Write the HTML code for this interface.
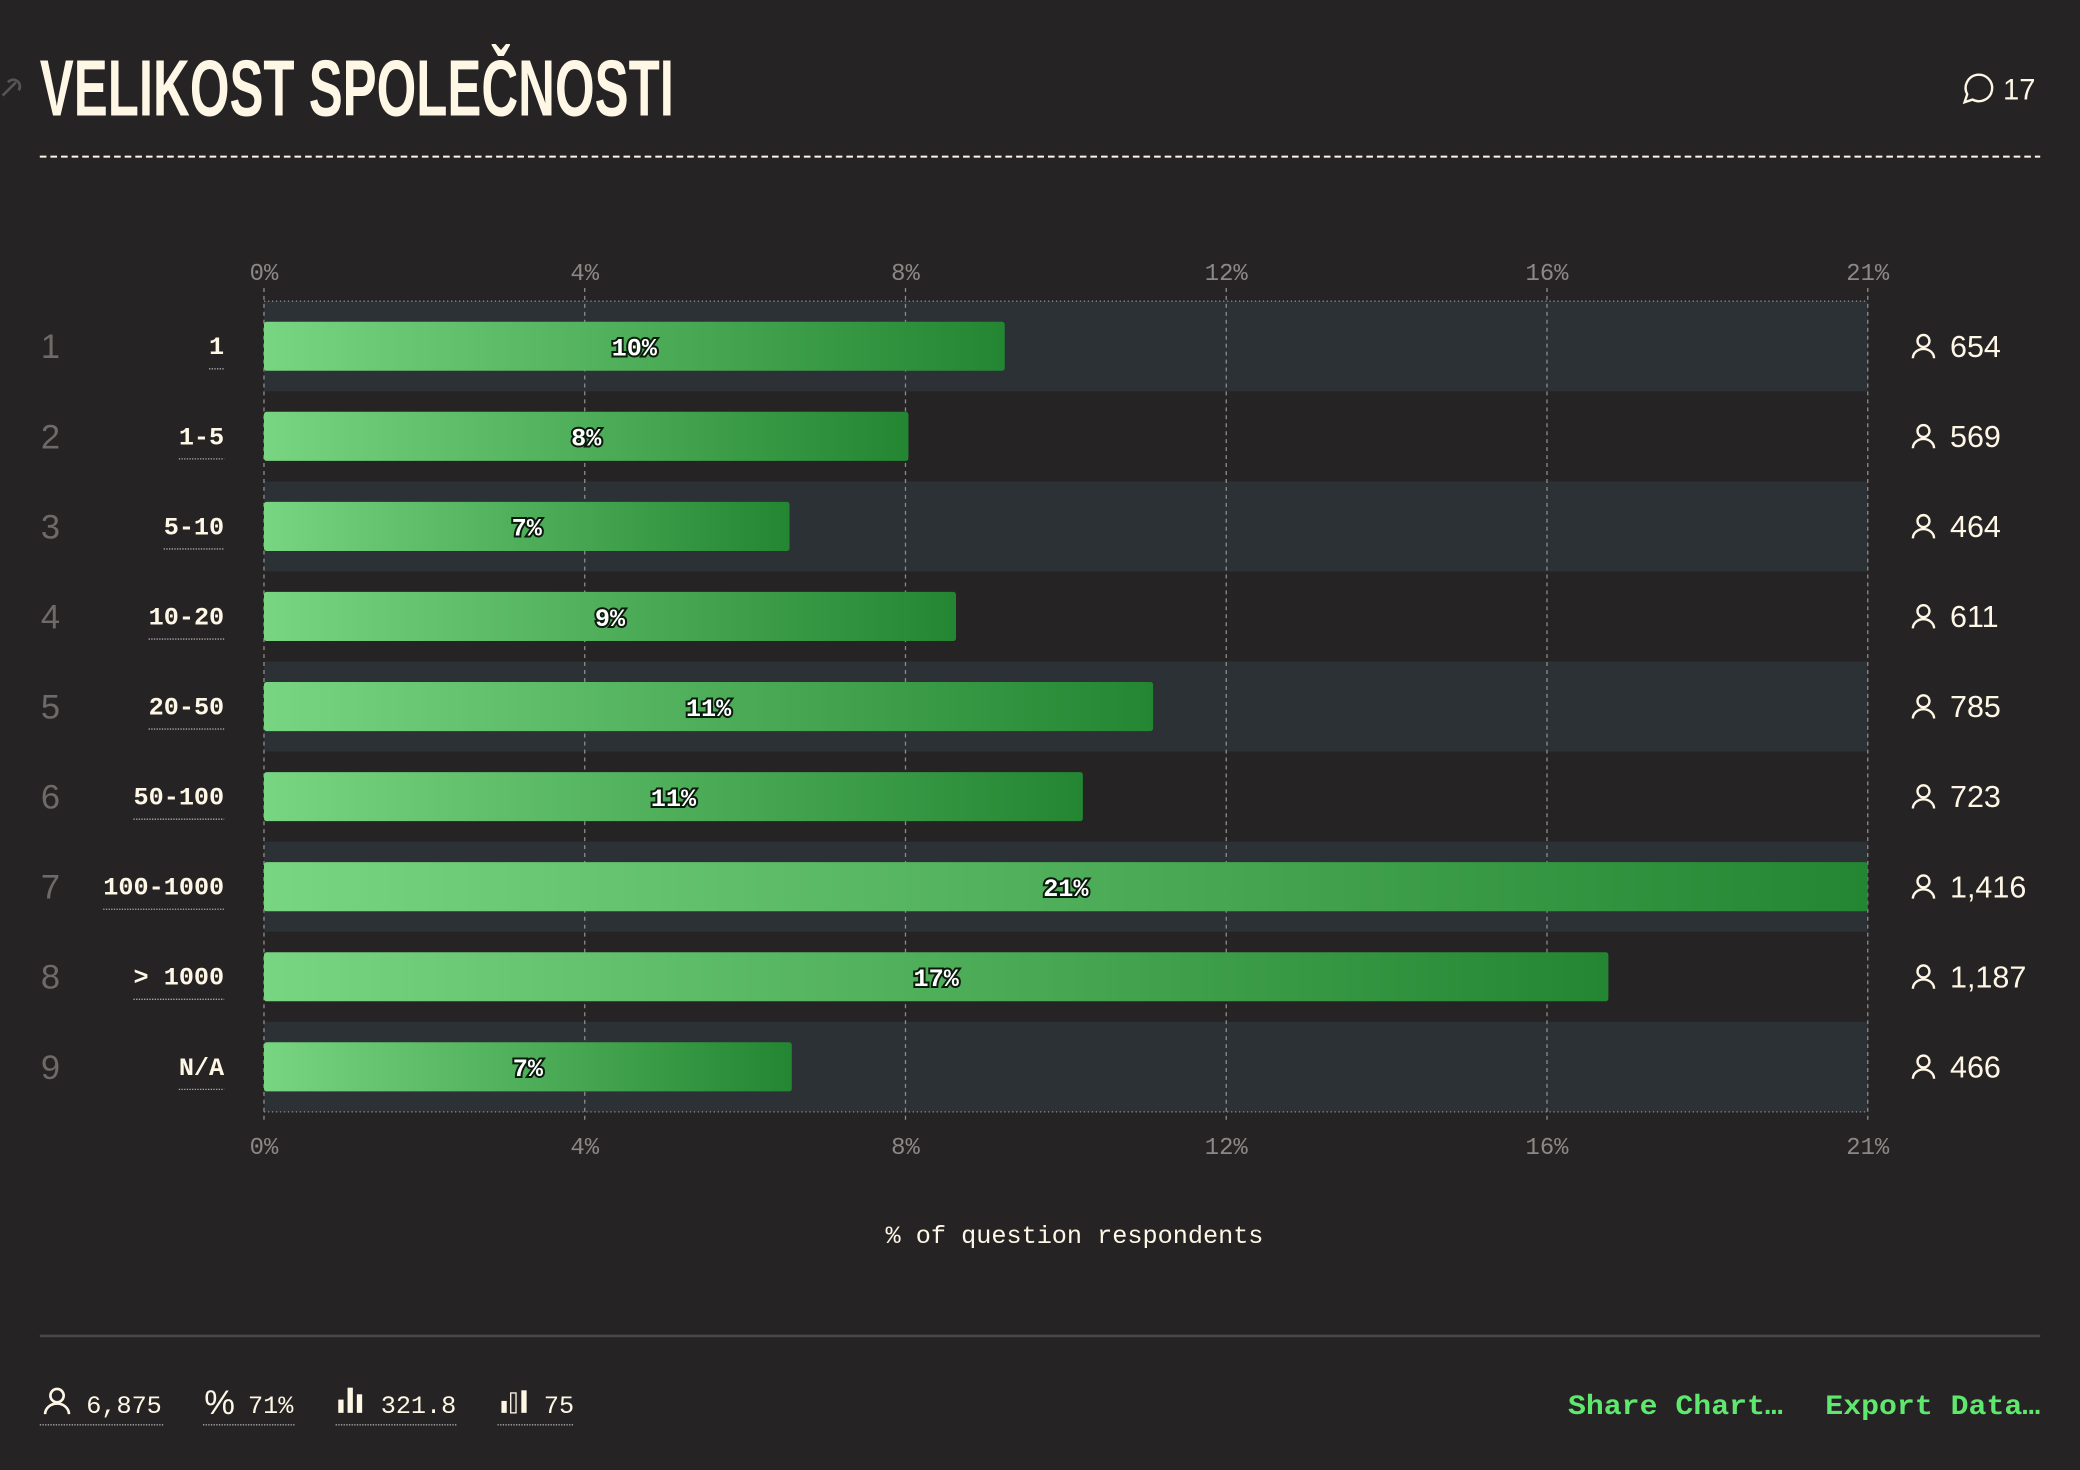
<!DOCTYPE html>
<html><head><meta charset="utf-8">
<style>
html,body{margin:0;padding:0;background:#262324;}
svg{display:block;}
.mono{font-family:"Liberation Mono","DejaVu Sans Mono",monospace;}
.sans{font-family:"Liberation Sans","DejaVu Sans",sans-serif;}
</style></head>
<body>
<svg id="chart" width="2080" height="1470" viewBox="0 0 1568 1108" xmlns="http://www.w3.org/2000/svg">
<defs>
<linearGradient id="barGrad" x1="0" x2="1" y1="0" y2="0">
<stop offset="0" stop-color="#78d581"/><stop offset="1" stop-color="#248632"/>
</linearGradient>
</defs>
<rect width="1568" height="1108" fill="#262324"/>
<text x="30" y="87" fill="#fff7e6" font-family="'Liberation Sans Narrow','Liberation Sans',sans-serif" font-weight="bold" font-size="60" textLength="478" lengthAdjust="spacingAndGlyphs">VELIKOST SPOLEČNOSTI</text>
<g stroke="#555" stroke-width="2" fill="none"><path d="M2 72 l10 -10 M6 62 a5 5 0 0 1 8 6"/></g>
<g>
<path d="M1481 77 l2 -6 a10 10 0 1 1 4 4 z" fill="none" stroke="#fff7e6" stroke-width="1.8"/>
<text x="1510" y="75" fill="#fff7e6" class="sans" font-size="22">17</text>
</g>
<line x1="30" x2="1538" y1="118" y2="118" stroke="#fff7e6" stroke-width="1.5" stroke-dasharray="5,3"/>
<g id="plot"></g>
<text x="810" y="937" fill="#fff7e6" class="mono" font-size="19" text-anchor="middle">% of question respondents</text>
<line x1="30" x2="1538" y1="1007" y2="1007" stroke="#4a4748" stroke-width="2"/>
<g fill="#fff7e6" class="mono" font-size="19">
<g>
<circle cx="43" cy="1052" r="5" fill="none" stroke="#fff7e6" stroke-width="2"/><path d="M34 1066 a9 8 0 0 1 18 0" fill="none" stroke="#fff7e6" stroke-width="2"/>
<text x="65" y="1065">6,875</text><line x1="30" x2="123" y1="1074" y2="1074" stroke="#aaa" stroke-dasharray="1,1"/></g>
<g>
<text x="154" y="1066" font-size="26" class="sans">%</text><text x="187" y="1065">71%</text><line x1="153" x2="222" y1="1074" y2="1074" stroke="#aaa" stroke-dasharray="1,1"/></g>
<g>
<rect x="255" y="1055" width="4" height="10"/><rect x="262" y="1046" width="4" height="19"/><rect x="269" y="1051" width="4" height="14"/>
<text x="287" y="1065">321.8</text><line x1="253" x2="345" y1="1074" y2="1074" stroke="#aaa" stroke-dasharray="1,1"/></g>
<g>
<rect x="378" y="1056" width="4" height="9"/><rect x="385" y="1050" width="4" height="15" fill="none" stroke="#fff7e6" stroke-width="1"/><rect x="393" y="1048" width="4" height="17"/>
<text x="410" y="1065">75</text><line x1="375" x2="433" y1="1074" y2="1074" stroke="#aaa" stroke-dasharray="1,1"/></g>
</g>
<text x="1182" y="1066" fill="#5ee86e" class="mono" font-weight="bold" font-size="21" textLength="162" lengthAdjust="spacingAndGlyphs">Share Chart…</text>
<text x="1376" y="1066" fill="#5ee86e" class="mono" font-weight="bold" font-size="21" textLength="162" lengthAdjust="spacingAndGlyphs">Export Data…</text>
</svg>
<script>
const categories = ["1","1-5","5-10","10-20","20-50","50-100","100-1000","> 1000","N/A"];
const counts = [654,569,464,611,785,723,1416,1187,466];
const total = 6875;
const tickLabels = ["0%","4%","8%","12%","16%","21%"];

const NS = "http://www.w3.org/2000/svg";
const plot = document.getElementById('plot');
const X0 = 199, X1 = 1408, TOP = 227, ROWH = 67.9;
const pcts = counts.map(c => c / total * 100);
const maxP = Math.max(...pcts);
const xs = v => X0 + v / maxP * (X1 - X0);
function mk(tag, attrs, parent) {
  const e = document.createElementNS(NS, tag);
  for (const k in attrs) e.setAttribute(k, attrs[k]);
  (parent || plot).appendChild(e);
  return e;
}
categories.forEach((c, i) => {
  if (i % 2 === 0) {
    const r = mk('rect', {x: X0, y: TOP + i * ROWH, width: X1 - X0, height: ROWH, fill: '#2b3135'});
    
    
  }
});
const BOT = TOP + categories.length * ROWH;
tickLabels.forEach((t, i) => {
  const x = xs(maxP * i / (tickLabels.length - 1));
  const g = mk('line', {x1: x, x2: x, y1: TOP - 10, y2: BOT + 8, stroke: '#8a8a8a', 'stroke-width': 1, 'stroke-dasharray': '3,3'});
  
  
  [204, 863].forEach(y => {
    const tx = mk('text', {x: x, y: y + 7, fill: '#8c8886', 'font-family': 'Liberation Mono, monospace', 'font-size': 18, 'text-anchor': 'middle'});
    tx.textContent = t;
    
    
  });
});
[TOP, BOT].forEach(y => {
  const l = mk('line', {x1: X0, x2: X1, y1: y, y2: y, stroke: '#8a8a8a', 'stroke-width': 1, 'stroke-dasharray': '1,2'});
  
  
});
categories.forEach((c, i) => {
  const cy = TOP + i * ROWH + ROWH / 2;
  const p = pcts[i];
  const bar = mk('rect', {x: X0, y: cy - 18.5, width: xs(p) - X0, height: 37, rx: 2, fill: 'url(#barGrad)'});
  
  
  const bl = mk('text', {x: (X0 + xs(p)) / 2, y: cy + 7, fill: '#fff', stroke: '#0a1a0c', 'stroke-width': 3, 'paint-order': 'stroke', 'font-family': 'Liberation Mono, monospace', 'font-weight': 'bold', 'font-size': 19, 'text-anchor': 'middle'});
  bl.textContent = Math.round(p) + '%';
  
  
  const rn = mk('text', {x: 38, y: cy + 9, fill: '#6e6a68', 'font-family': 'Liberation Sans, sans-serif', 'font-size': 26, 'text-anchor': 'middle'});
  rn.textContent = String(i + 1);
  
  
  const cl = mk('text', {x: 169, y: cy + 6, fill: '#fff7e6', 'font-family': 'Liberation Mono, monospace', 'font-weight': 'bold', 'font-size': 19, 'text-anchor': 'end'});
  cl.textContent = c;
  
  
  const w = c.length * 11.4;
  const ul = mk('line', {x1: 169 - w, x2: 169, y1: cy + 17, y2: cy + 17, stroke: '#aaa', 'stroke-dasharray': '1,1'});
  
  
  const ic = mk('g', {stroke: '#fff7e6', 'stroke-width': 1.8, fill: 'none'});
  
  
  mk('circle', {cx: 1450, cy: cy - 4, r: 4.5}, ic);
  mk('path', {d: `M1442 ${cy + 9} a8 7 0 0 1 16 0`}, ic);
  const ct = mk('text', {x: 1470, y: cy + 8, fill: '#fff7e6', 'font-family': 'Liberation Sans, sans-serif', 'font-size': 23});
  ct.textContent = counts[i].toLocaleString('en-US');
  
  
});
</script>
</body></html>
